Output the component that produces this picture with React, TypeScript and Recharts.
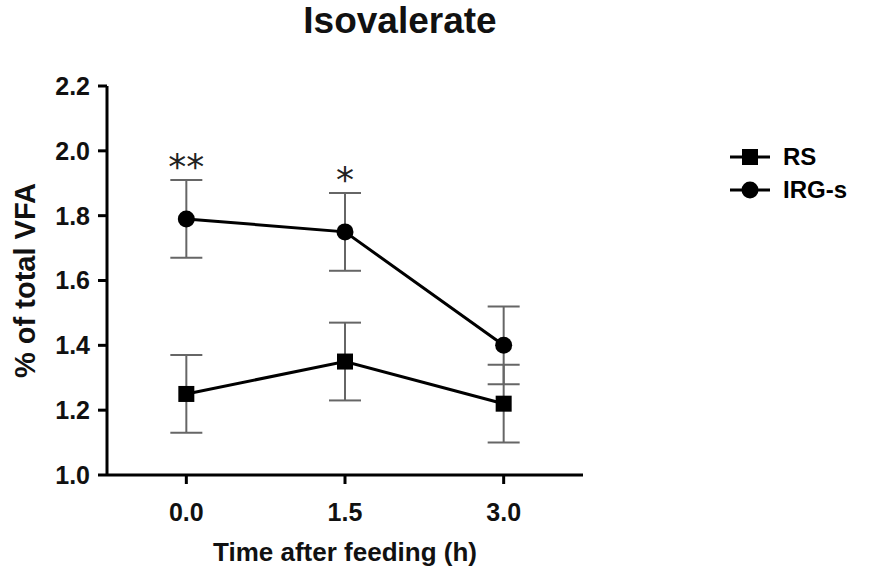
import { ComposedChart, Line, XAxis, YAxis, ErrorBar, Legend, LabelList } from "recharts";

const times = [0, 1.5, 3];
const rsMean = [1.25, 1.35, 1.22];
const rsSd = [0.12, 0.12, 0.12];
const irgMean = [1.79, 1.75, 1.4];
const irgSd = [0.12, 0.12, 0.12];
const irgStars = ["**", "*", ""];
const xTicks = [0, 1.5, 3];
const yTicks = [1.0, 1.2, 1.4, 1.6, 1.8, 2.0, 2.2];

const font = "'Liberation Sans', Arial, sans-serif";

const data = times.map((t, i) => ({
  time: t,
  rs: rsMean[i],
  rsErr: rsSd[i],
  irg: irgMean[i],
  irgErr: irgSd[i],
  stars: irgStars[i],
}));

const SquareDot = (p: any) => <rect key={`s${p.index}`} x={p.cx - 8} y={p.cy - 8} width={16} height={16} fill="#000" />;
const CircleDot = (p: any) => <circle key={`c${p.index}`} cx={p.cx} cy={p.cy} r={8.5} fill="#000" />;

const StarLabel = (p: any) => {
  if (!p.value) return null;
  return (
    <text x={p.x} y={p.y - 40} textAnchor="middle" fontSize={36} fontFamily="'DejaVu Sans', sans-serif" fill="#222">
      {p.value}
    </text>
  );
};

const LegendBox = () => (
  <div style={{ fontFamily: font, fontWeight: 700, fontSize: 24 }}>
    {[
      { name: "RS", shape: "square" },
      { name: "IRG-s", shape: "circle" },
    ].map((e) => (
      <div key={e.name} style={{ display: "flex", alignItems: "center", height: 33 }}>
        <svg width={44} height={20} style={{ marginRight: 11 }}>
          <line x1={2} y1={10} x2={42} y2={10} stroke="#000" strokeWidth={3} />
          {e.shape === "square" ? <rect x={14} y={2} width={16} height={16} fill="#000" /> : <circle cx={22} cy={10} r={8.5} fill="#000" />}
        </svg>
        <span>{e.name}</span>
      </div>
    ))}
  </div>
);

export default function App() {
  const tickStyle = { fill: "#111", fontSize: 25, fontWeight: 700, fontFamily: font };
  return (
    <div style={{ position: "absolute", left: 0, top: 0, width: 885, height: 576, background: "#fff" }}>
      <div
        style={{
          position: "absolute",
          top: 0,
          left: 0,
          width: 800,
          textAlign: "center",
          fontFamily: font,
          fontWeight: 700,
          fontSize: 37,
          color: "#111",
        }}
      >
        Isovalerate
      </div>
      <ComposedChart width={885} height={576} data={data} margin={{ top: 86, right: 302, bottom: 11, left: 0 }}>
        <XAxis
          dataKey="time"
          type="number"
          domain={[-0.75, 3.75]}
          ticks={xTicks}
          tickFormatter={(v: number) => v.toFixed(1)}
          height={90}
          tick={tickStyle}
          tickSize={9}
          tickMargin={19}
          axisLine={{ stroke: "#000", strokeWidth: 3 }}
          tickLine={{ stroke: "#000", strokeWidth: 3 }}
          label={(p: any) => (
            <text
              x={p.viewBox.x + p.viewBox.width / 2}
              y={p.viewBox.y + 86}
              textAnchor="middle"
              fontFamily={font}
              fontWeight={700}
              fontSize={26}
              fill="#111"
            >
              Time after feeding (h)
            </text>
          )}
        />
        <YAxis
          type="number"
          domain={[1, 2.2]}
          ticks={yTicks}
          tickFormatter={(v: number) => v.toFixed(1)}
          width={107}
          tick={tickStyle}
          tickSize={9}
          tickMargin={8}
          axisLine={{ stroke: "#000", strokeWidth: 3 }}
          tickLine={{ stroke: "#000", strokeWidth: 3 }}
          label={(p: any) => (
            <text
              x={25}
              y={p.viewBox.y + p.viewBox.height / 2}
              textAnchor="middle"
              dominantBaseline="central"
              transform={`rotate(-90, 25, ${p.viewBox.y + p.viewBox.height / 2})`}
              fontFamily={font}
              fontWeight={700}
              fontSize={29}
              fill="#111"
            >
              % of total VFA
            </text>
          )}
        />
        <Legend
          layout="vertical"
          verticalAlign="middle"
          align="center"
          wrapperStyle={{ position: "absolute", top: 140, left: 728, width: 150 }}
          content={() => <LegendBox />}
        />
        <Line
          dataKey="rs"
          name="RS"
          stroke="#000"
          strokeWidth={3}
          dot={SquareDot}
          activeDot={false}
          isAnimationActive={false}
        >
          <ErrorBar dataKey="rsErr" direction="y" width={16} stroke="#666" strokeWidth={2} />
        </Line>
        <Line
          dataKey="irg"
          name="IRG-s"
          stroke="#000"
          strokeWidth={3}
          dot={CircleDot}
          activeDot={false}
          isAnimationActive={false}
        >
          <ErrorBar dataKey="irgErr" direction="y" width={16} stroke="#666" strokeWidth={2} />
          <LabelList dataKey="stars" content={StarLabel} />
        </Line>
      </ComposedChart>
    </div>
  );
}
